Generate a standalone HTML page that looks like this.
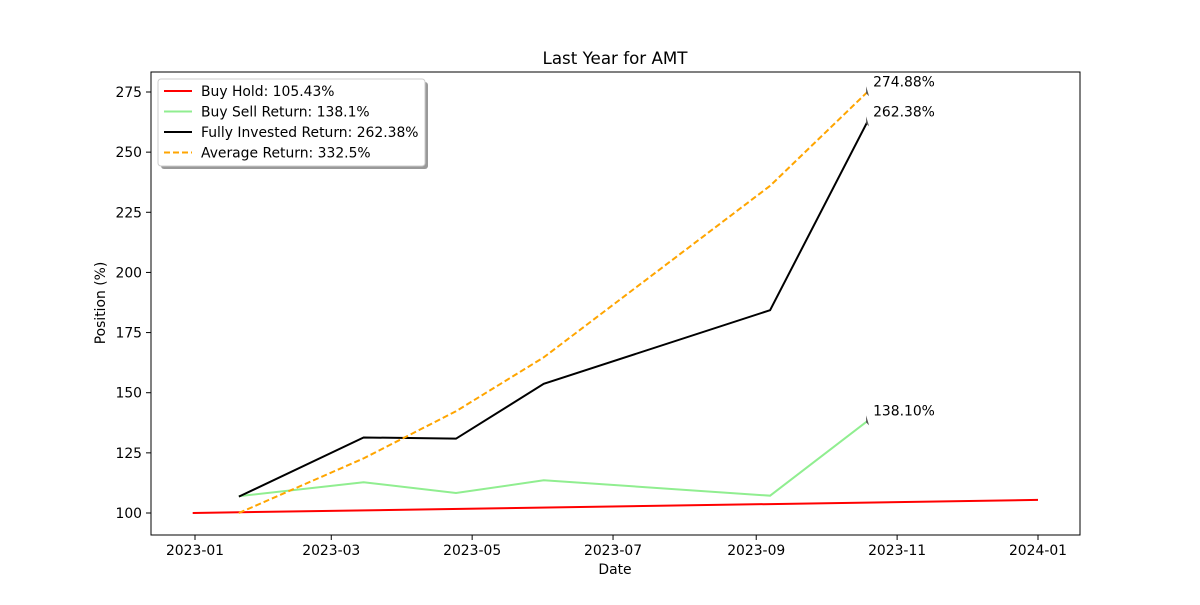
<!DOCTYPE html>
<html><head><meta charset="utf-8"><style>
body{margin:0;background:#fff;font-family:"Liberation Sans","DejaVu Sans",sans-serif;}
svg text{font-family:"DejaVu Sans","Liberation Sans",sans-serif;}
</style></head><body>
<svg id="chart" width="1200" height="600" xmlns="http://www.w3.org/2000/svg">
<rect width="1200" height="600" fill="#fff"/>
<text x="615" y="64" font-size="16.7" text-anchor="middle">Last Year for AMT</text>
<g id="plot"></g>
<rect x="151" y="72" width="929" height="463" fill="none" stroke="#000" stroke-width="1"/>
<text x="615" y="574" font-size="13.9" text-anchor="middle">Date</text>
<text x="105" y="303" font-size="13.9" text-anchor="middle" transform="rotate(-90 105 303)">Position (%)</text>
</svg>
<script>
const xTickLabels=["2023-01","2023-03","2023-05","2023-07","2023-09","2023-11","2024-01"];
const xTickDays=[0,59,120,181,243,304,365];
const yTicks=[100,125,150,175,200,225,250,275];
const buyHoldDays=[-1,365];
const buyHoldVals=[100,105.43];
const tradeDays=[19,73,113,151,249,291];
const buySellVals=[107,112.8,108.3,113.6,107.2,138.1];
const fullyVals=[106.8,131.4,130.9,153.7,184.3,262.38];
const avgVals=[100,122.7,142.3,164.7,236,274.88];
const legendLabels=["Buy Hold: 105.43%","Buy Sell Return: 138.1%","Fully Invested Return: 262.38%","Average Return: 332.5%"];
const X=d=>195+d*843/365;
const Y=v=>513-(v-100)*(421/175);
const NS="http://www.w3.org/2000/svg";
const g=document.getElementById('plot');
function mk(t,a){const e=document.createElementNS(NS,t);for(const k in a)e.setAttribute(k,a[k]);g.appendChild(e);return e;}
xTickDays.forEach((d,i)=>{
 const l=mk('line',{x1:X(d),x2:X(d),y1:535,y2:540,stroke:'#000'});
 
 
 const t=mk('text',{x:X(d),y:555,'font-size':13.9,'text-anchor':'middle'});t.textContent=xTickLabels[i];
 
 
});
yTicks.forEach(v=>{
 const l=mk('line',{x1:146,x2:151,y1:Y(v),y2:Y(v),stroke:'#000'});
 
 
 const t=mk('text',{x:142,y:Y(v)+5,'font-size':13.9,'text-anchor':'end'});t.textContent=v;
 
 
});
function line(days,vals,color,dash,name){
 const p=mk('polyline',{points:days.map((d,i)=>X(d)+','+Y(vals[i])).join(' '),fill:'none',stroke:color,'stroke-width':2,'stroke-dasharray':dash||''});
 
 
}
line(buyHoldDays,buyHoldVals,'#ff0000','','buy-hold-line');
line(tradeDays,buySellVals,'#90ee90','','buy-sell-line');
line(tradeDays,fullyVals,'#000000','','fully-invested-line');
line(tradeDays,avgVals,'#ffa500','6,3','average-return-line');
const last=tradeDays.length-1;
[[avgVals,'274.88%'],[fullyVals,'262.38%'],[buySellVals,'138.10%']].forEach(([vals,txt])=>{
 const x=X(tradeDays[last]),y=Y(vals[last]);
 const a=mk('path',{d:`M${x-1},${y-6} L${x+2},${y+4} L${x-1},${y+1} Z`,fill:'#555'});
 
 
 const t=mk('text',{x:x+6,y:y-6,'font-size':13.9});t.textContent=txt;
 
 
});
const sh=mk('rect',{x:161,y:82,width:267,height:87,rx:3,fill:'#999'});


const lb=mk('rect',{x:158,y:79,width:267,height:87,rx:3,fill:'#fff',stroke:'#ccc'});


const lc=['#ff0000','#90ee90','#000000','#ffa500'];
legendLabels.forEach((s,i)=>{
 const y=91+i*20.5;
 const l=mk('line',{x1:164,x2:192,y1:y,y2:y,stroke:lc[i],'stroke-width':2,'stroke-dasharray':i==3?'6,3':''});
 
 
 const t=mk('text',{x:201,y:y+5,'font-size':13.9});t.textContent=s;
 
 
});
</script>
</body></html>
